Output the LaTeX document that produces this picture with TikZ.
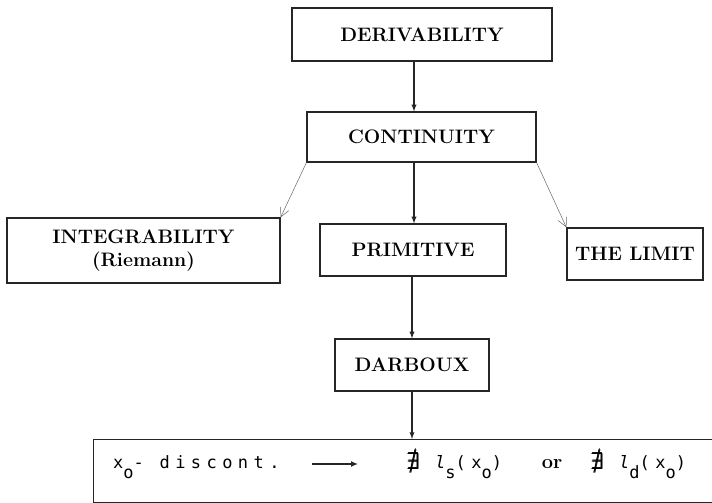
\documentclass[tikz,border=0pt]{standalone}
\usepackage{amsmath}
\usepackage{amssymb}
\usepackage{fontspec}
\usepackage{tikz}
\usepackage{xcolor}
\usetikzlibrary{arrows.meta}
\newfontfamily\typefont[LetterSpace=32]{DejaVu Sans Mono}
\newcommand{\lowtxt}[1]{\raisebox{-10pt}{#1}}

\begin{document}
\begin{tikzpicture}[x=1pt, y=-1pt,
    box/.style={draw=black!85, line width=1.2pt, align=center, inner sep=0pt,
        font=\fontsize{19.5}{23}\selectfont\bfseries},
    typed/.style={anchor=base west, inner sep=0pt, font=\typefont\fontsize{17}{20}\selectfont},
    down/.style={black!85, line width=1.3pt, -latex},
    side/.style={black!60, line width=0.5pt, -{Straight Barb[length=9pt, width=9pt]}}]
    \useasboundingbox (0,0) rectangle (712,503);

    \node[box, minimum width=260pt, minimum height=53pt] (deriv) at (422,34.5) {DERIVABILITY};
    \node[box, minimum width=229pt, minimum height=50pt] (cont) at (421.5,137) {CONTINUITY};
    \node[box, minimum width=273pt, minimum height=65pt] (integ) at (143.5,250.5) {INTEGRABILITY\\(Riemann)};
    \node[box, minimum width=186pt, minimum height=52pt] (prim) at (413,250) {PRIMITIVE};
    \node[box, minimum width=136pt, minimum height=52pt] (limit) at (635,254) {THE LIMIT};
    \node[box, minimum width=154pt, minimum height=52pt] (darb) at (412,365) {DARBOUX};
    \node[box, minimum width=640pt, minimum height=63pt, anchor=north west] (disc) at (93,439) {};

    % text of the last box
    \node[typed] (xo) at (113,468) {x\lowtxt{o}- discont.};
    \coordinate (imp1) at (312,464);
    \coordinate (imp2) at (358,464);
    \node[typed, font=\fontsize{23}{23}\selectfont] (nex1) at (407,469) {$\pmb{\nexists}$};
    \node[typed] (ls) at (435,468) {{\itshape l}\lowtxt{s}(x\lowtxt{o})};
    \node[anchor=base, inner sep=0pt, font=\fontsize{20}{20}\selectfont\bfseries] (or) at (552,468) {or};
    \node[typed, font=\fontsize{23}{23}\selectfont] (nex2) at (591,469) {$\pmb{\nexists}$};
    \node[typed] (ld) at (619,468) {{\itshape l}\lowtxt{d}(x\lowtxt{o})};

    \draw[down] (deriv.south -| 414,0) -- (cont.north -| 414,0);
    \draw[down] (cont.south -| 414,0) -- (prim.north -| 414,0);
    \draw[down] (prim.south -| 412,0) -- (darb.north -| 412,0);
    \draw[down] (darb.south -| 412,0) -- (disc.north -| 412,0);
    \draw[side] (cont.south west) -- (integ.north east);
    \draw[side] (cont.south east) -- (limit.north west);
    \draw[black!85, line width=2pt, -{Latex[length=7pt, width=6pt]}] (imp1) -- (imp2);
\end{tikzpicture}
\end{document}
